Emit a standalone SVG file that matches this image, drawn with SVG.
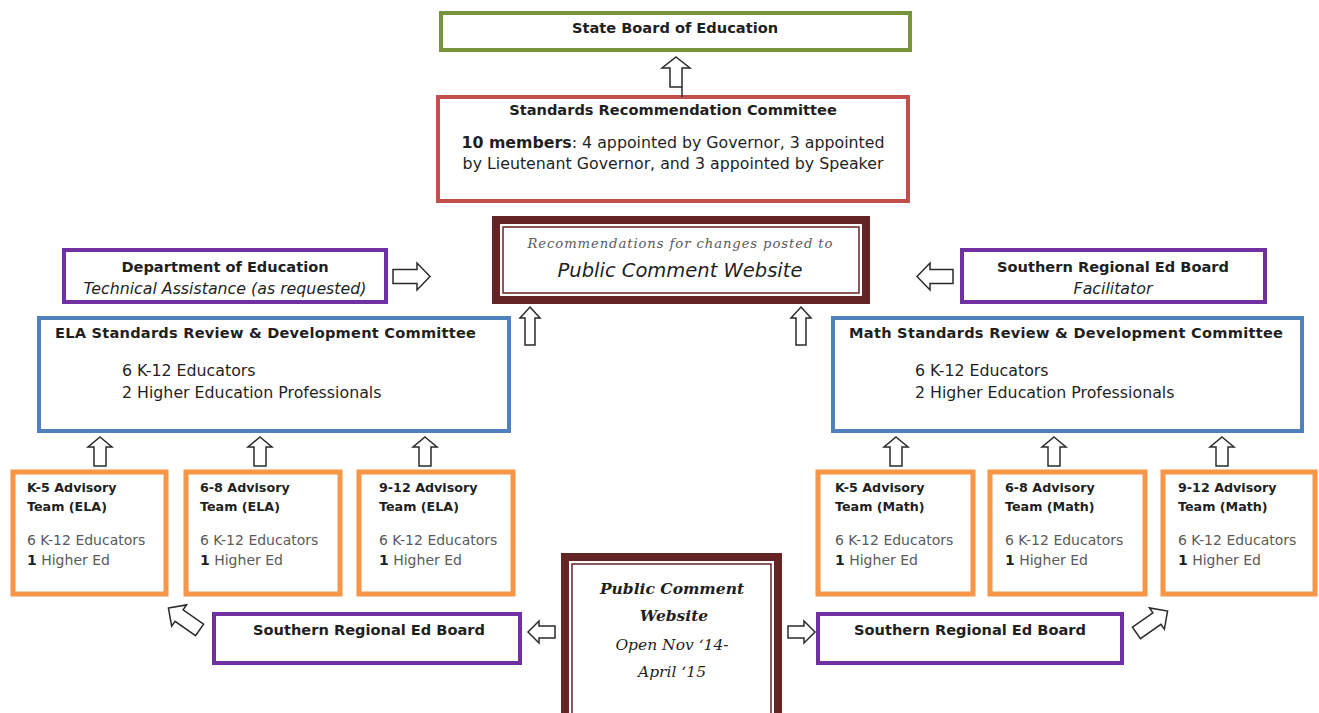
<svg xmlns="http://www.w3.org/2000/svg" width="1319" height="713" viewBox="0 0 1319 713">
<defs>
<style>
text{font-family:"DejaVu Sans","Open Sans",sans-serif;fill:#1f1f1f}
.b{font-weight:bold}
.i{font-style:italic}
.t{font-size:14.6px;font-weight:bold}
.r{font-size:15.8px}
.s{font-size:14px}
.sb{font-size:12.7px;font-weight:bold}
.g{fill:#5a5a5a}
.ser{font-family:"DejaVu Serif","Liberation Serif",serif}
.box{fill:#fff;stroke-width:4}
.green{stroke:#77933C}
.red{stroke:#C0504D}
.purple{stroke:#7030A0}
.blue{stroke:#4F81BD}
.orange{stroke:#F79646;stroke-width:5}
.mo{fill:#fff;stroke:#632523;stroke-width:8}
.mi{fill:none;stroke:#632523;stroke-width:1.5}
.arr{fill:#fff;stroke:#2a2a2a;stroke-width:1.5;stroke-linejoin:miter}
</style>
<path id="diag" d="M0,-19 L13,-6 L7,-6 L7,19 L-7,19 L-7,-6 L-13,-6 Z"/>
</defs>
<rect width="1319" height="713" fill="#fff"/>

<g id="state-board">
<rect class="box green" x="441" y="13" width="469" height="37"/>
<text class="t" x="675" y="33" text-anchor="middle">State Board of Education</text>
</g>

<g id="standards-recommendation-committee">
<rect class="box red" x="438" y="97" width="470" height="104"/>
<text class="t" x="673" y="115" text-anchor="middle">Standards Recommendation Committee</text>
<text class="r" x="673" y="148" text-anchor="middle"><tspan class="b">10 members</tspan>: 4 appointed by Governor, 3 appointed</text>
<text class="r" x="673" y="169" text-anchor="middle">by Lieutenant Governor, and 3 appointed by Speaker</text>
</g>

<g id="public-comment-top">
<rect class="mo" x="496" y="220" width="370" height="80"/>
<rect class="mi" x="503" y="227" width="356" height="66"/>
<text class="ser i g" x="680" y="248" text-anchor="middle" font-size="13.2" textLength="305">Recommendations for changes posted to</text>
<text class="i" x="680" y="277" text-anchor="middle" font-size="19.5">Public Comment Website</text>
</g>

<g id="dept-education">
<rect class="box purple" x="64" y="250" width="322" height="52"/>
<text class="t" x="225" y="272" text-anchor="middle">Department of Education</text>
<text class="r i" x="225" y="294" text-anchor="middle">Technical Assistance (as requested)</text>
</g>

<g id="sreb-facilitator">
<rect class="box purple" x="962" y="250" width="303" height="52"/>
<text class="t" x="1113" y="272" text-anchor="middle">Southern Regional Ed Board</text>
<text class="r i" x="1113" y="294" text-anchor="middle">Facilitator</text>
</g>

<g id="ela-committee">
<rect class="box blue" x="39" y="318" width="470" height="113"/>
<text class="t" x="55" y="338" textLength="421">ELA Standards Review &amp; Development Committee</text>
<text class="r" x="122" y="376">6 K-12 Educators</text>
<text class="r" x="122" y="398">2 Higher Education Professionals</text>
</g>

<g id="math-committee">
<rect class="box blue" x="833" y="318" width="469" height="113"/>
<text class="t" x="849" y="338" textLength="434">Math Standards Review &amp; Development Committee</text>
<text class="r" x="915" y="376">6 K-12 Educators</text>
<text class="r" x="915" y="398">2 Higher Education Professionals</text>
</g>

<g id="k5-ela">
<rect class="box orange" x="13" y="472" width="153" height="122"/>
<text class="sb" x="27" y="492">K-5 Advisory</text>
<text class="sb" x="27" y="511">Team (ELA)</text>
<text class="s g" x="27" y="545">6 K-12 Educators</text>
<text class="s" x="27" y="565"><tspan class="b">1</tspan><tspan class="g"> Higher Ed</tspan></text>
</g>
<g id="68-ela">
<rect class="box orange" x="186" y="472" width="154" height="122"/>
<text class="sb" x="200" y="492">6-8 Advisory</text>
<text class="sb" x="200" y="511">Team (ELA)</text>
<text class="s g" x="200" y="545">6 K-12 Educators</text>
<text class="s" x="200" y="565"><tspan class="b">1</tspan><tspan class="g"> Higher Ed</tspan></text>
</g>
<g id="912-ela">
<rect class="box orange" x="359" y="472" width="154" height="122"/>
<text class="sb" x="379" y="492">9-12 Advisory</text>
<text class="sb" x="379" y="511">Team (ELA)</text>
<text class="s g" x="379" y="545">6 K-12 Educators</text>
<text class="s" x="379" y="565"><tspan class="b">1</tspan><tspan class="g"> Higher Ed</tspan></text>
</g>

<g id="k5-math">
<rect class="box orange" x="818" y="472" width="155" height="122"/>
<text class="sb" x="835" y="492">K-5 Advisory</text>
<text class="sb" x="835" y="511">Team (Math)</text>
<text class="s g" x="835" y="545">6 K-12 Educators</text>
<text class="s" x="835" y="565"><tspan class="b">1</tspan><tspan class="g"> Higher Ed</tspan></text>
</g>
<g id="68-math">
<rect class="box orange" x="990" y="472" width="155" height="122"/>
<text class="sb" x="1005" y="492">6-8 Advisory</text>
<text class="sb" x="1005" y="511">Team (Math)</text>
<text class="s g" x="1005" y="545">6 K-12 Educators</text>
<text class="s" x="1005" y="565"><tspan class="b">1</tspan><tspan class="g"> Higher Ed</tspan></text>
</g>
<g id="912-math">
<rect class="box orange" x="1163" y="472" width="152" height="122"/>
<text class="sb" x="1178" y="492">9-12 Advisory</text>
<text class="sb" x="1178" y="511">Team (Math)</text>
<text class="s g" x="1178" y="545">6 K-12 Educators</text>
<text class="s" x="1178" y="565"><tspan class="b">1</tspan><tspan class="g"> Higher Ed</tspan></text>
</g>

<g id="sreb-left">
<rect class="box purple" x="214" y="614" width="306" height="49"/>
<text class="t" x="369" y="635" text-anchor="middle">Southern Regional Ed Board</text>
</g>
<g id="sreb-right">
<rect class="box purple" x="818" y="614" width="304" height="49"/>
<text class="t" x="970" y="635" text-anchor="middle">Southern Regional Ed Board</text>
</g>

<g id="public-comment-bottom">
<rect class="mo" x="565" y="557" width="213" height="170"/>
<rect class="mi" x="572" y="564" width="199" height="170"/>
<text class="ser i b" x="672" y="594" text-anchor="middle" font-size="15.5">Public Comment</text>
<text class="ser i b" x="674" y="621" text-anchor="middle" font-size="15.5">Website</text>
<text class="ser i" x="672" y="650" text-anchor="middle" font-size="15.5">Open Nov ‘14-</text>
<text class="ser i" x="672" y="677" text-anchor="middle" font-size="15.5">April ‘15</text>
</g>

<g id="connectors">
<polygon class="arr" points="676,57 690,68 682,68 682,87 670,87 670,68 662,68"/>
<line x1="682" y1="87" x2="682" y2="97" stroke="#2a2a2a" stroke-width="1.5"/>
<polygon class="arr" points="530,307 540,318 535,318 535,345 525,345 525,318 520,318"/>
<polygon class="arr" points="801,307 811,318 806,318 806,345 796,345 796,318 791,318"/>
<polygon class="arr" points="430,276.5 417,263 417,269.5 393,269.5 393,283.5 417,283.5 417,290"/>
<polygon class="arr" points="917,276.5 930,263 930,269.5 953,269.5 953,283.5 930,283.5 930,290"/>
<polygon class="arr" points="100,437 112,447 106,447 106,466 94,466 94,447 88,447"/>
<polygon class="arr" points="260,437 272,447 266,447 266,466 254,466 254,447 248,447"/>
<polygon class="arr" points="425,437 437,447 431,447 431,466 419,466 419,447 413,447"/>
<polygon class="arr" points="896,437 908,447 902,447 902,466 890,466 890,447 884,447"/>
<polygon class="arr" points="1054,437 1066,447 1060,447 1060,466 1048,466 1048,447 1042,447"/>
<polygon class="arr" points="1222,437 1234,447 1228,447 1228,466 1216,466 1216,447 1210,447"/>
<polygon class="arr" points="528,632 539,621 539,626 555,626 555,638 539,638 539,643"/>
<polygon class="arr" points="815,632 804,621 804,626 788,626 788,638 804,638 804,643"/>
<use href="#diag" class="arr" transform="translate(184,619) rotate(-55)"/>
<use href="#diag" class="arr" transform="translate(1152,622) rotate(55)"/>
</g>
</svg>
